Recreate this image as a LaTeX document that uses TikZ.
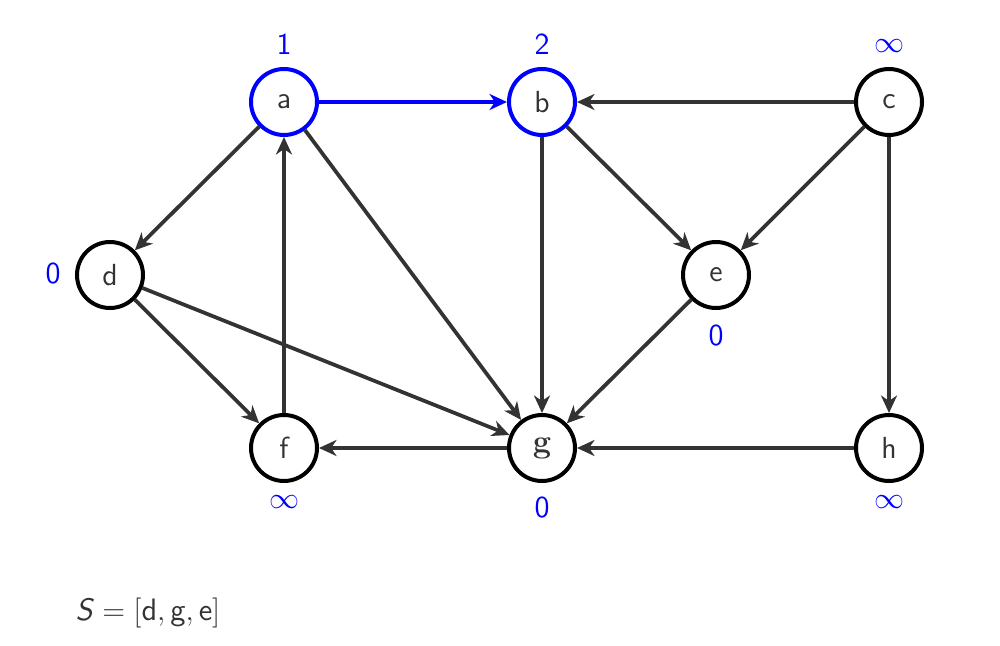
\documentclass[tikz,border=0pt]{standalone}
\usetikzlibrary{arrows.meta}
\definecolor{dk}{HTML}{333333}
\definecolor{bl}{HTML}{0000FF}
\begin{document}
\begin{tikzpicture}[x=0.4pt,y=-0.4pt,
  vtx/.style={circle,draw=black,line width=1.6pt,minimum size=26.4pt,inner sep=0pt,text=dk,font=\sffamily\fontsize{12.2}{14}\selectfont},
  vblue/.style={vtx,draw=bl},
  lab/.style={text=bl,font=\sffamily\fontsize{12.2}{14}\selectfont,inner sep=0pt},
  edge/.style={draw=dk,line width=1.5pt,-{Stealth[length=7pt,width=6.4pt,inset=2.2pt]}},
  bedge/.style={edge,draw=bl}]
\useasboundingbox (0,0) rectangle (1000,646);
\node[vblue] (a) at (284,102) {a};
\node[vblue] (b) at (542,102) {b};
\node[vtx] (c) at (889,102) {c};
\node[vtx] (d) at (110,275) {d};
\node[vtx] (e) at (716,275) {e};
\node[vtx] (f) at (284,448) {f};
\node[vtx,font=\rmfamily\fontsize{13}{14}\selectfont] (g) at (542,448) {\textbf{g}};
\node[vtx] (h) at (889,448) {h};
\node[lab] (la) at (284,44) {1};
\node[lab] (lb) at (542,44) {2};
\node[lab] (lc) at (889,46) {$\infty$};
\node[lab] (ld) at (53,274) {0};
\node[lab] (le) at (716,336) {0};
\node[lab] (lf) at (284,502) {$\infty$};
\node[lab] (lg) at (542,508) {0};
\node[lab] (lh) at (889,502) {$\infty$};
\draw[bedge] (a) -- (b);
\draw[edge] (c) -- (b);
\draw[edge] (a) -- (d);
\draw[edge] (a) -- (g);
\draw[edge] (b) -- (e);
\draw[edge] (b) -- (g);
\draw[edge] (c) -- (e);
\draw[edge] (c) -- (h);
\draw[edge] (d) -- (f);
\draw[edge] (d) -- (g);
\draw[edge] (f) -- (a);
\draw[edge] (e) -- (g);
\draw[edge] (g) -- (f);
\draw[edge] (h) -- (g);
\node[text=dk,anchor=west,font=\fontsize{12.4}{14}\selectfont,inner sep=0pt] (s) at (75,613) {\textsf{\textit{S}}${}=[\textsf{d},\textsf{g},\textsf{e}]$};
\end{tikzpicture}
\end{document}
